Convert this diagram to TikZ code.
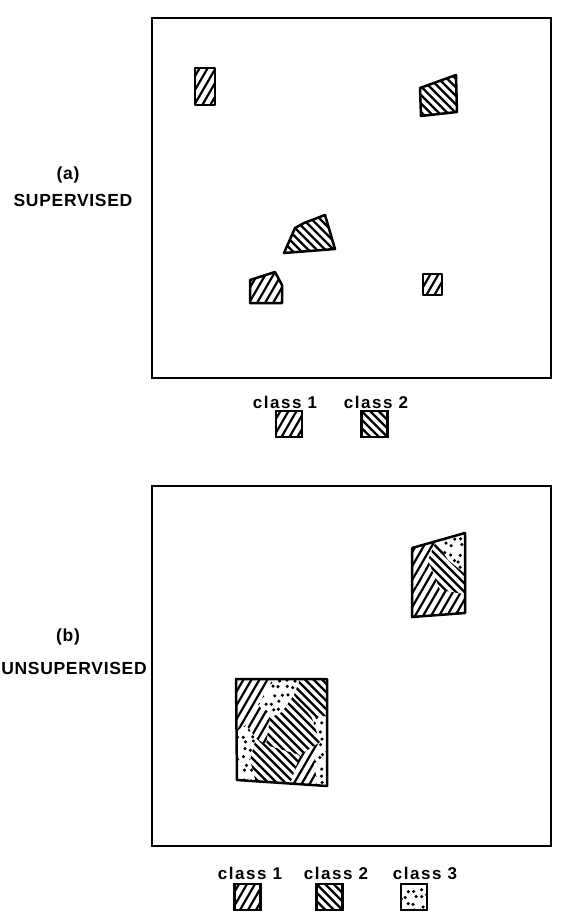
\documentclass[tikz,border=0pt]{standalone}
\usepackage{fontspec}
\setmainfont{Liberation Sans}
\newfontfamily\lblfont{Liberation Sans}[LetterSpace=4]
\newfontfamily\keyfont{Liberation Sans}[LetterSpace=9]
\begin{document}
\begin{tikzpicture}[x=1pt, y=-1pt,
    frame/.style={line width=2pt},
    blob/.style={line width=2.5pt, line join=round},
    hatchline/.style={line width=2.2pt},
    % class 1: steep lines rising to the right
    cls1/.style={path picture={\foreach \i in {-11,...,11}
        \draw[hatchline] (path picture bounding box.center) ++(\i*8,0) ++(-40,69) -- ++(80,-138);}},
    % class 2: lines falling to the right
    cls2/.style={path picture={\foreach \i in {-13,...,13}
        \draw[hatchline] (path picture bounding box.center) ++(\i*8.5,0) ++(-65,-65) -- ++(130,130);}},
    % class 3: scattered dots
    cls3/.style={path picture={\pgfmathsetseed{#1}\foreach \i in {-8,...,8}\foreach \j in {-8,...,8}
        \fill (path picture bounding box.center) ++({\i*7.5+2.6*rand},{\j*7.5+2.6*rand}) circle (1.75);}},
    cls3/.default=7,
    lbl/.style={font=\lblfont\bfseries\fontsize{17.5}{20}\selectfont, inner sep=0pt},
    key/.style={font=\keyfont\bfseries\fontsize{17}{19}\selectfont, inner sep=0pt},
    legbox/.style={draw, line width=2.2pt, minimum size=26pt, inner sep=0pt}
]
    \useasboundingbox (0,0) rectangle (565,922);

    % ---- (a) supervised ----
    \node[lbl] (tagA) at (68,175) {(a)};
    \node[lbl] (nameA) at (73,200) {SUPERVISED};
    \draw[frame] (152,18) rectangle (551,378);

    \draw[blob, cls1] (195,68) rectangle (215,105);                              % upper left
    \draw[blob, cls2] (420,88) -- (456,75) -- (457,112) -- (421,116) -- cycle;   % upper right
    \draw[blob, cls2] (284,253) -- (295,228) -- (304,223) -- (325,215) -- (335,249) -- cycle; % centre
    \draw[blob, cls1] (250,280) -- (275,272) -- (282,285) -- (282,303) -- (250,303) -- cycle; % lower left
    \draw[blob, cls1] (423,274) rectangle (442,295);                             % lower right

    \node[key] (keyA1) at (285,402) {class 1};
    \node[key] (keyA2) at (376,402) {class 2};
    \node[legbox, cls1] (boxA1) at (289,424) {};
    \node[legbox, cls2] (boxA2) at (374.5,424) {};

    % ---- (b) unsupervised ----
    \node[lbl] (tagB) at (68,637) {(b)};
    \node[lbl] (nameB) at (74,668) {UNSUPERVISED};
    \draw[frame] (152,486) rectangle (551,846);

    % Explicit Coordinates: mixed patches
    \coordinate (Q1) at (412,548);   % small patch
    \coordinate (Q2) at (465,533);
    \coordinate (Q3) at (465,613);
    \coordinate (Q4) at (412,617);
    \coordinate (R1) at (236,679);   % large patch
    \coordinate (R2) at (327,679);
    \coordinate (R3) at (327,786);
    \coordinate (R4) at (237,780);

    \begin{scope}
        \clip (Q1) -- (Q2) -- (Q3) -- (Q4) -- cycle;
        \path[cls1] (405,548) -- (436,541) -- (428,560) -- (420,585) -- (405,590) -- cycle;
        \path[cls3=3] (436,541) -- (470,528) -- (470,578) -- (448,560) -- cycle;
        \path[cls2] (436,541) -- (448,560) -- (470,578) -- (470,595) -- (440,590) -- (428,560) -- cycle;
        \path[cls1] (405,590) -- (420,585) -- (428,560) -- (440,590) -- (470,595) -- (470,622) -- (405,622) -- cycle;
    \end{scope}
    \draw[blob] (Q1) -- (Q2) -- (Q3) -- (Q4) -- cycle;

    \begin{scope}
        \clip (R1) -- (R2) -- (R3) -- (R4) -- cycle;
        \path[cls1] (230,674) -- (276,674) -- (258,705) -- (246,725) -- (230,735) -- cycle;   % top left
        \path[cls3=11] (276,674) -- (302,674) -- (294,695) -- (282,712) -- (270,718) -- (258,705) -- cycle; % top middle
        \path[cls2] (302,674) -- (332,674) -- (332,715) -- (312,718) -- (294,695) -- cycle;   % top right
        \path[cls3=5] (332,715) -- (332,790) -- (318,790) -- (314,762) -- (320,742) -- (312,718) -- cycle; % right
        \path[cls3=9] (230,735) -- (246,725) -- (256,738) -- (250,760) -- (258,790) -- (230,790) -- cycle; % left
        \path[cls1] (258,705) -- (270,718) -- (266,745) -- (256,738) -- (246,725) -- cycle;   % centre left
        \path[cls2] (270,718) -- (282,712) -- (294,695) -- (312,718) -- (320,742) -- (300,755) -- (266,745) -- cycle; % centre
        \path[cls1] (300,755) -- (320,742) -- (314,762) -- (318,790) -- (288,790) -- cycle;   % bottom right
        \path[cls2] (250,760) -- (256,738) -- (266,745) -- (300,755) -- (288,790) -- (258,790) -- cycle; % bottom left
    \end{scope}
    \draw[blob] (R1) -- (R2) -- (R3) -- (R4) -- cycle;

    \node[key] (keyB1) at (250,873) {class 1};
    \node[key] (keyB2) at (336,873) {class 2};
    \node[key] (keyB3) at (425,873) {class 3};
    \node[legbox, cls1] (boxB1) at (247.5,897) {};
    \node[legbox, cls2] (boxB2) at (329.5,897) {};
    \node[legbox, cls3=2] (boxB3) at (414,897) {};
\end{tikzpicture}
\end{document}
